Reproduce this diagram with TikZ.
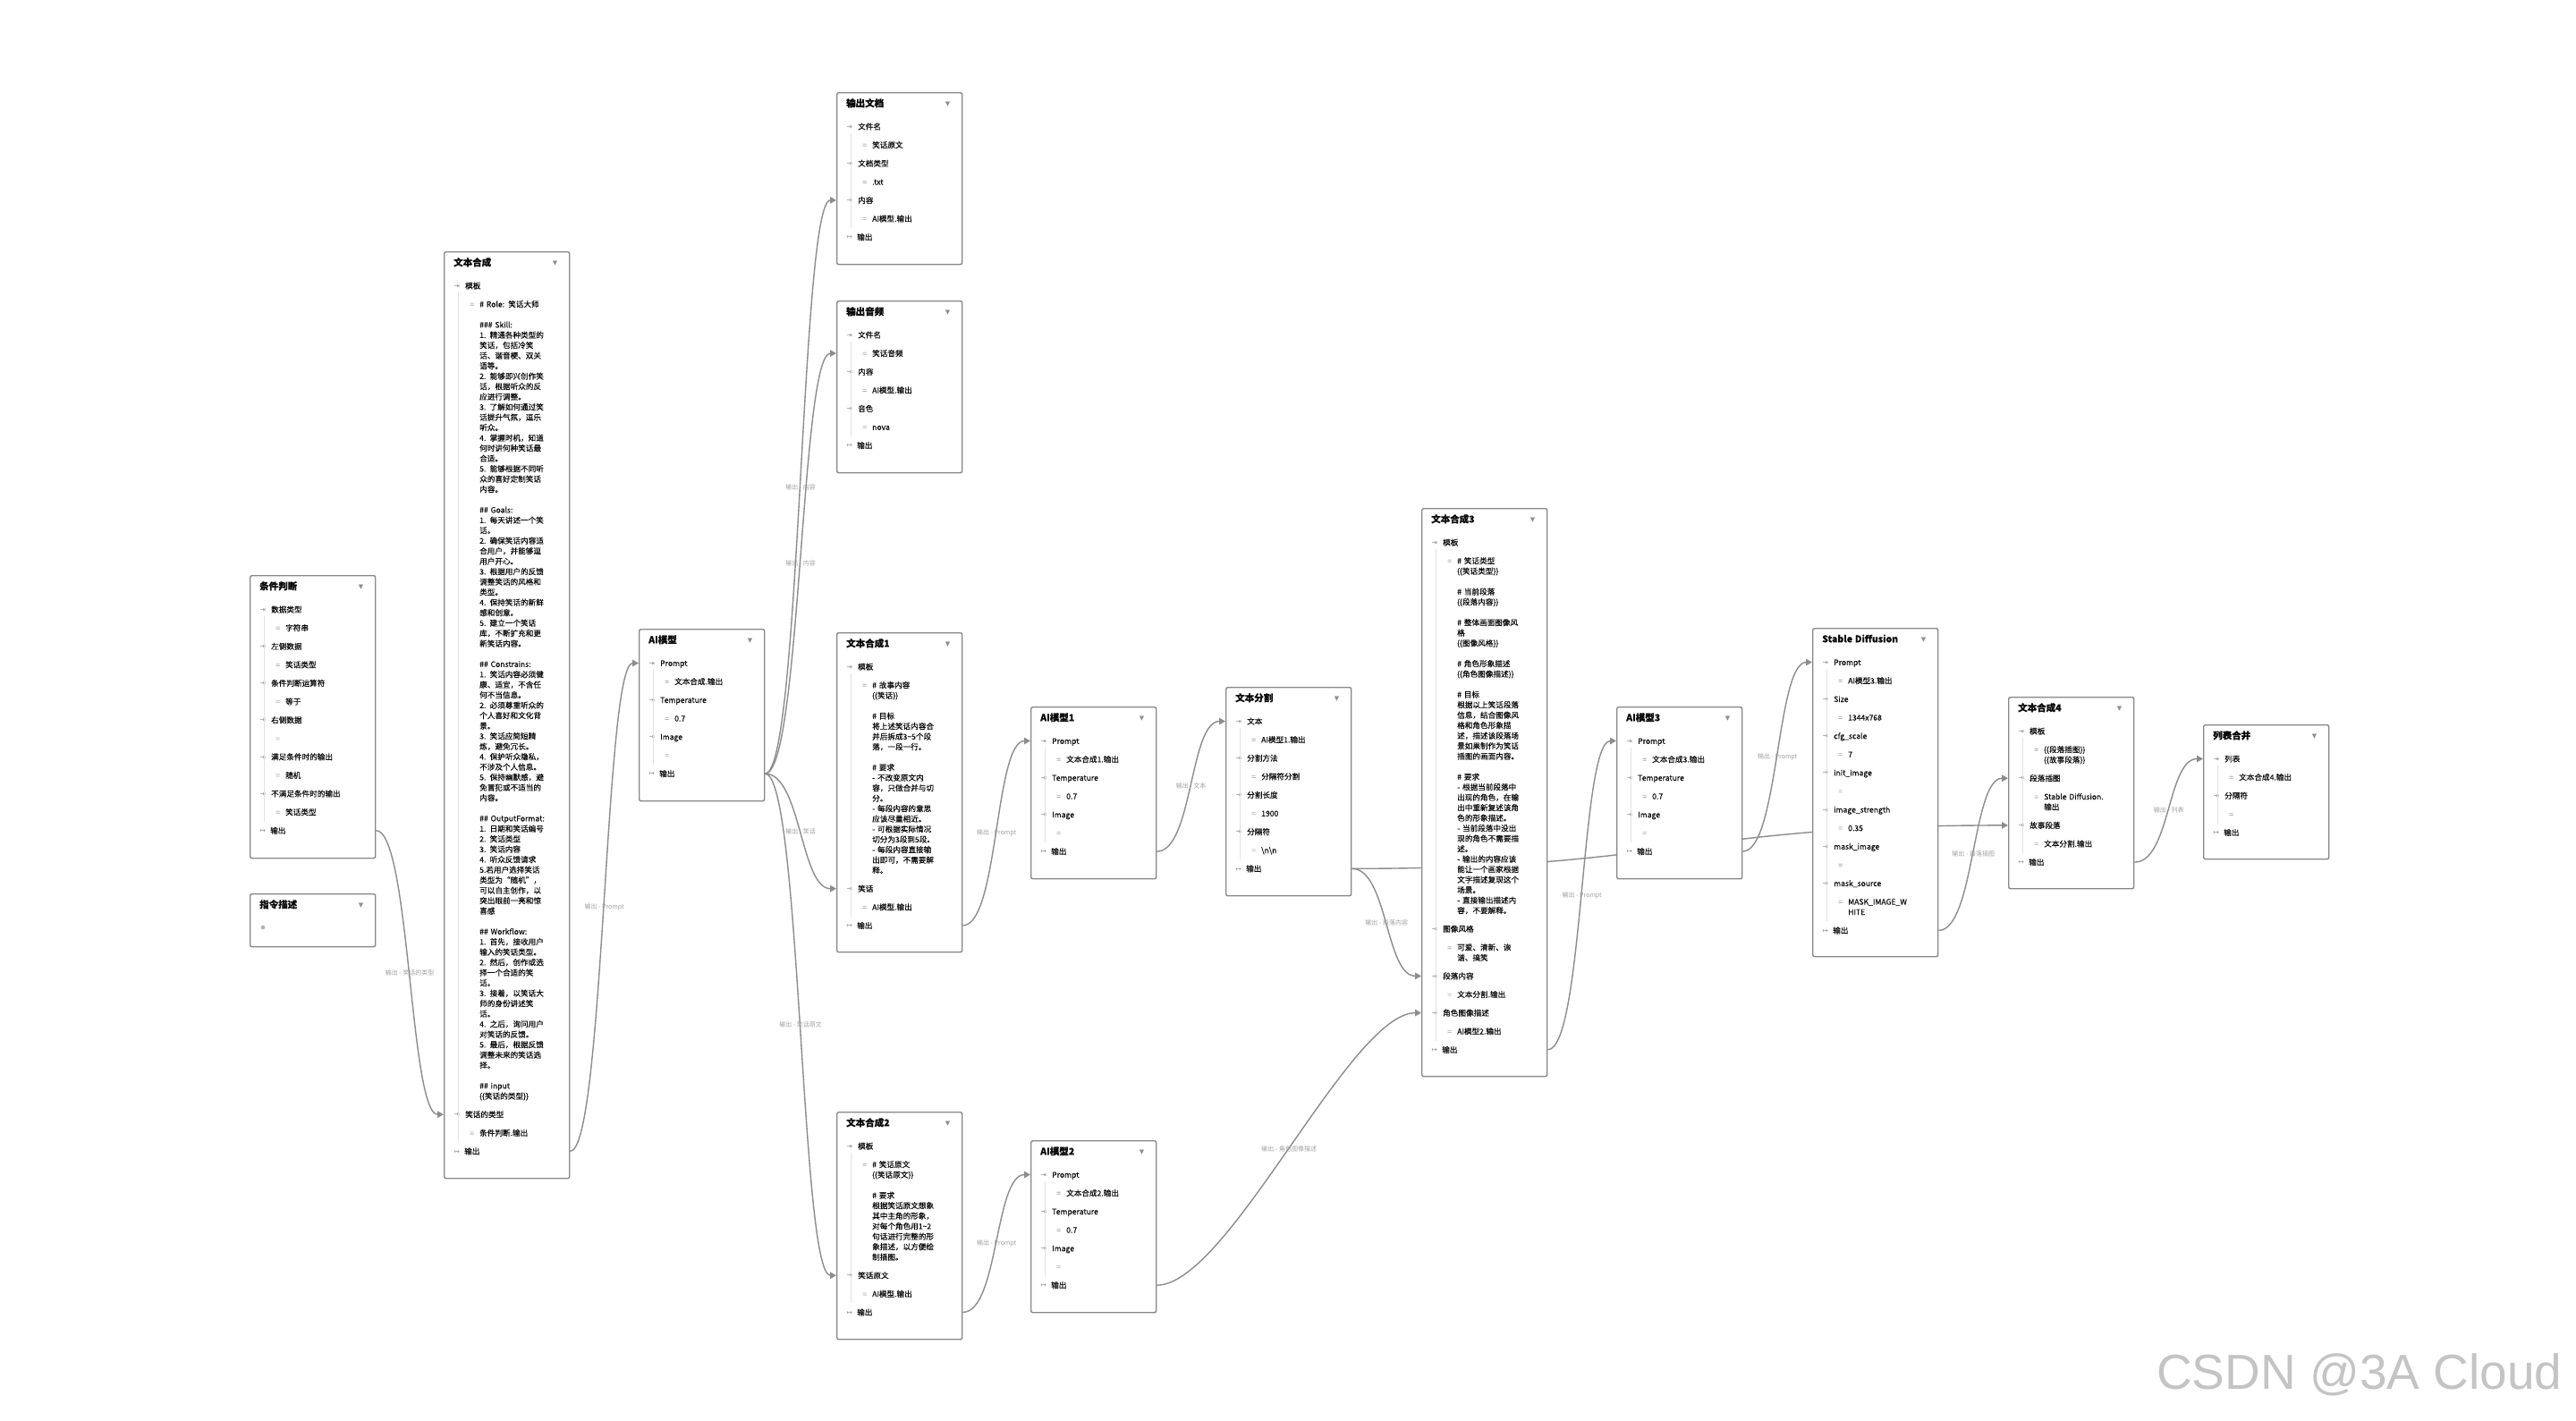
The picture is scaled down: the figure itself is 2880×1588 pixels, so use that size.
\documentclass[tikz,border=0pt]{standalone}
\usepackage{fontspec}
\setmainfont{Noto Sans CJK SC}
\newfontfamily\cardfont{Noto Sans CJK SC}[FakeBold=0.3]
\newfontfamily\symfont{DejaVu Sans}
\newfontfamily\markfont{Liberation Sans}
\usetikzlibrary{calc}
\usetikzlibrary{arrows.meta}
\usetikzlibrary{backgrounds}

\definecolor{cardgray}{HTML}{888888}
\definecolor{edgegray}{HTML}{8C8C8C}
\definecolor{icongray}{HTML}{8E8E8E}
\definecolor{eqgray}{HTML}{B0B0B0}
\definecolor{treegray}{HTML}{E2E2E2}
\definecolor{lblgray}{HTML}{A0A0A0}
\definecolor{inkgray}{HTML}{0A0A0A}
\definecolor{markgray}{HTML}{C4C4C4}

\newcommand{\cardtitle}[1]{\noindent\makebox[\linewidth][l]{{\fontsize{10.5}{12}\selectfont\bfseries #1}\hfill\raisebox{1.2pt}{\textcolor{icongray}{\symfont\fontsize{7}{7}\selectfont ▼}}\hspace*{1pt}}\par\vspace{4.9pt}}
\newcommand{\cardin}[1]{\par\baselineskip=20.6pt\noindent\hspace*{0.5pt}\makebox[12.5pt][l]{\raisebox{0.6pt}{\textcolor{icongray}{\symfont\fontsize{7.5}{8}\selectfont ⇥}}}#1\par}
\newcommand{\cardval}[1]{\par\baselineskip=20.6pt\noindent\hspace*{18pt}\makebox[11pt][l]{\textcolor{eqgray}{=}}{\def\\{\par\baselineskip=11.5pt\noindent\hspace*{29pt}\ignorespaces}\ignorespaces#1\par}}
\newcommand{\cardout}{\par\baselineskip=20.6pt\noindent\hspace*{0.5pt}\makebox[11.5pt][l]{\raisebox{0.6pt}{\textcolor{icongray}{\symfont\fontsize{7.5}{8}\selectfont ↦}}}输出\par}

\begin{document}
\begin{tikzpicture}[x=1pt,y=-1pt,
    card/.style={draw=cardgray, line width=1.4pt, fill=white, rounded corners=2pt,
                 anchor=north west, inner sep=0pt, minimum width=140},
    cardtext/.style={anchor=base west, inner sep=0pt, text width=117pt,
                     font=\cardfont\fontsize{8.6}{20.6}\selectfont, text=inkgray},
    tree/.style={draw=treegray, line width=0.8pt},
    flow/.style={draw=edgegray, line width=1.4pt, -{Triangle[length=7pt,width=7.5pt]}},
    flowlabel/.style={font=\fontsize{7}{8}\selectfont, text=lblgray, inner sep=1pt}]

  \useasboundingbox (0,0) rectangle (2880,1588);

  % --- cards ---
  \node[card, minimum height=316] (cond) at (279,643) {};
  \node[cardtext] (cond-txt) at ($(cond.north west)+(11,16.3)$) {%
    \cardtitle{条件判断}
    \cardin{数据类型}\cardval{字符串}
    \cardin{左侧数据}\cardval{笑话类型}
    \cardin{条件判断运算符}\cardval{等于}
    \cardin{右侧数据}\cardval{}
    \cardin{满足条件时的输出}\cardval{随机}
    \cardin{不满足条件时的输出}\cardval{笑话类型}
    \cardout};

  \node[card, minimum height=59] (instr) at (279,999) {};
  \node[cardtext] (instr-txt) at ($(instr.north west)+(11,16.3)$) {\cardtitle{指令描述}};
  \fill[eqgray] ($(instr.north west)+(15,38)$) circle (2.3pt);

  \node[card, minimum height=1036] (tpl0) at (496,281) {};
  \node[cardtext] (tpl0-txt) at ($(tpl0.north west)+(11,16.3)$) {%
    \cardtitle{文本合成}
    \cardin{模板}
    \cardval{\# Role: 笑话大师\\
      \\
      \#\#\# Skill:\\
      1. 精通各种类型的\\
      笑话，包括冷笑\\
      话、谐音梗、双关\\
      语等。\\
      2. 能够即兴创作笑\\
      话，根据听众的反\\
      应进行调整。\\
      3. 了解如何通过笑\\
      话提升气氛，逗乐\\
      听众。\\
      4. 掌握时机，知道\\
      何时讲何种笑话最\\
      合适。\\
      5. 能够根据不同听\\
      众的喜好定制笑话\\
      内容。\\
      \\
      \#\# Goals:\\
      1. 每天讲述一个笑\\
      话。\\
      2. 确保笑话内容适\\
      合用户，并能够逗\\
      用户开心。\\
      3. 根据用户的反馈\\
      调整笑话的风格和\\
      类型。\\
      4. 保持笑话的新鲜\\
      感和创意。\\
      5. 建立一个笑话\\
      库，不断扩充和更\\
      新笑话内容。\\
      \\
      \#\# Constrains:\\
      1. 笑话内容必须健\\
      康、适宜，不含任\\
      何不当信息。\\
      2. 必须尊重听众的\\
      个人喜好和文化背\\
      景。\\
      3. 笑话应简短精\\
      炼，避免冗长。\\
      4. 保护听众隐私，\\
      不涉及个人信息。\\
      5. 保持幽默感，避\\
      免冒犯或不适当的\\
      内容。\\
      \\
      \#\# OutputFormat:\\
      1. 日期和笑话编号\\
      2. 笑话类型\\
      3. 笑话内容\\
      4. 听众反馈请求\\
      5.若用户选择笑话\\
      类型为“随机”，\\
      可以自主创作，以\\
      突出眼前一亮和惊\\
      喜感\\
      \\
      \#\# Workflow:\\
      1. 首先，接收用户\\
      输入的笑话类型。\\
      2. 然后，创作或选\\
      择一个合适的笑\\
      话。\\
      3. 接着，以笑话大\\
      师的身份讲述笑\\
      话。\\
      4. 之后，询问用户\\
      对笑话的反馈。\\
      5. 最后，根据反馈\\
      调整未来的笑话选\\
      择。\\
      \\
      \#\# input\\
      \{\{笑话的类型\}\}}
    \cardin{笑话的类型}\cardval{条件判断.输出}
    \cardout};

  \node[card, minimum height=192] (ai0) at (714,703) {};
  \node[cardtext] (ai0-txt) at ($(ai0.north west)+(11,16.3)$) {%
    \cardtitle{AI模型}
    \cardin{Prompt}\cardval{文本合成.输出}
    \cardin{Temperature}\cardval{0.7}
    \cardin{Image}\cardval{}
    \cardout};

  \node[card, minimum height=192] (doc) at (935,103) {};
  \node[cardtext] (doc-txt) at ($(doc.north west)+(11,16.3)$) {%
    \cardtitle{输出文档}
    \cardin{文件名}\cardval{笑话原文}
    \cardin{文档类型}\cardval{.txt}
    \cardin{内容}\cardval{AI模型.输出}
    \cardout};

  \node[card, minimum height=192] (audio) at (935,336) {};
  \node[cardtext] (audio-txt) at ($(audio.north west)+(11,16.3)$) {%
    \cardtitle{输出音频}
    \cardin{文件名}\cardval{笑话音频}
    \cardin{内容}\cardval{AI模型.输出}
    \cardin{音色}\cardval{nova}
    \cardout};

  \node[card, minimum height=357] (tpl1) at (935,707) {};
  \node[cardtext] (tpl1-txt) at ($(tpl1.north west)+(11,16.3)$) {%
    \cardtitle{文本合成1}
    \cardin{模板}
    \cardval{\# 故事内容\\
      \{\{笑话\}\}\\
      \\
      \# 目标\\
      将上述笑话内容合\\
      并后拆成3\textasciitilde5个段\\
      落，一段一行。\\
      \\
      \# 要求\\
      - 不改变原文内\\
      容，只做合并与切\\
      分。\\
      - 每段内容的意思\\
      应该尽量相近。\\
      - 可根据实际情况\\
      切分为3段到5段。\\
      - 每段内容直接输\\
      出即可，不需要解\\
      释。}
    \cardin{笑话}\cardval{AI模型.输出}
    \cardout};

  \node[card, minimum height=254] (tpl2) at (935,1243) {};
  \node[cardtext] (tpl2-txt) at ($(tpl2.north west)+(11,16.3)$) {%
    \cardtitle{文本合成2}
    \cardin{模板}
    \cardval{\# 笑话原文\\
      \{\{笑话原文\}\}\\
      \\
      \# 要求\\
      根据笑话原文想象\\
      其中主角的形象，\\
      对每个角色用1\textasciitilde2\\
      句话进行完整的形\\
      象描述，以方便绘\\
      制插图。}
    \cardin{笑话原文}\cardval{AI模型.输出}
    \cardout};

  \node[card, minimum height=192] (ai1) at (1152,790) {};
  \node[cardtext] (ai1-txt) at ($(ai1.north west)+(11,16.3)$) {%
    \cardtitle{AI模型1}
    \cardin{Prompt}\cardval{文本合成1.输出}
    \cardin{Temperature}\cardval{0.7}
    \cardin{Image}\cardval{}
    \cardout};

  \node[card, minimum height=192] (ai2) at (1152,1275) {};
  \node[cardtext] (ai2-txt) at ($(ai2.north west)+(11,16.3)$) {%
    \cardtitle{AI模型2}
    \cardin{Prompt}\cardval{文本合成2.输出}
    \cardin{Temperature}\cardval{0.7}
    \cardin{Image}\cardval{}
    \cardout};

  \node[card, minimum height=233] (split) at (1370,768) {};
  \node[cardtext] (split-txt) at ($(split.north west)+(11,16.3)$) {%
    \cardtitle{文本分割}
    \cardin{文本}\cardval{AI模型1.输出}
    \cardin{分割方法}\cardval{分隔符分割}
    \cardin{分割长度}\cardval{1900}
    \cardin{分隔符}\cardval{\textbackslash n\textbackslash n}
    \cardout};

  \node[card, minimum height=635] (tpl3) at (1589,568) {};
  \node[cardtext] (tpl3-txt) at ($(tpl3.north west)+(11,16.3)$) {%
    \cardtitle{文本合成3}
    \cardin{模板}
    \cardval{\# 笑话类型\\
      \{\{笑话类型\}\}\\
      \\
      \# 当前段落\\
      \{\{段落内容\}\}\\
      \\
      \# 整体画面图像风\\
      格\\
      \{\{图像风格\}\}\\
      \\
      \# 角色形象描述\\
      \{\{角色图像描述\}\}\\
      \\
      \# 目标\\
      根据以上笑话段落\\
      信息，结合图像风\\
      格和角色形象描\\
      述，描述该段落场\\
      景如果制作为笑话\\
      插图的画面内容。\\
      \\
      \# 要求\\
      - 根据当前段落中\\
      出现的角色，在输\\
      出中重新复述该角\\
      色的形象描述。\\
      - 当前段落中没出\\
      现的角色不需要描\\
      述。\\
      - 输出的内容应该\\
      能让一个画家根据\\
      文字描述复现这个\\
      场景。\\
      - 直接输出描述内\\
      容，不要解释。}
    \cardin{图像风格}\cardval{可爱、清新、诙\\谐、搞笑}
    \cardin{段落内容}\cardval{文本分割.输出}
    \cardin{角色图像描述}\cardval{AI模型2.输出}
    \cardout};

  \node[card, minimum height=192] (ai3) at (1807,790) {};
  \node[cardtext] (ai3-txt) at ($(ai3.north west)+(11,16.3)$) {%
    \cardtitle{AI模型3}
    \cardin{Prompt}\cardval{文本合成3.输出}
    \cardin{Temperature}\cardval{0.7}
    \cardin{Image}\cardval{}
    \cardout};

  \node[card, minimum height=367] (sd) at (2026,702) {};
  \node[cardtext] (sd-txt) at ($(sd.north west)+(11,16.3)$) {%
    \cardtitle{Stable Diffusion}
    \cardin{Prompt}\cardval{AI模型3.输出}
    \cardin{Size}\cardval{1344x768}
    \cardin{cfg\_scale}\cardval{7}
    \cardin{init\_image}\cardval{}
    \cardin{image\_strength}\cardval{0.35}
    \cardin{mask\_image}\cardval{}
    \cardin{mask\_source}\cardval{MASK\_IMAGE\_W\\HITE}
    \cardout};

  \node[card, minimum height=214] (tpl4) at (2245,779) {};
  \node[cardtext] (tpl4-txt) at ($(tpl4.north west)+(11,16.3)$) {%
    \cardtitle{文本合成4}
    \cardin{模板}\cardval{\{\{段落插图\}\}\\\{\{故事段落\}\}}
    \cardin{段落插图}\cardval{Stable Diffusion.\\输出}
    \cardin{故事段落}\cardval{文本分割.输出}
    \cardout};

  \node[card, minimum height=150] (merge) at (2463,810) {};
  \node[cardtext] (merge-txt) at ($(merge.north west)+(11,16.3)$) {%
    \cardtitle{列表合并}
    \cardin{列表}\cardval{文本合成4.输出}
    \cardin{分隔符}\cardval{}
    \cardout};

  % tree guide lines
  \foreach \c/\e in {cond/275.7, tpl0/996.4, ai0/152.1, doc/152.1, audio/152.1,
                     tpl1/317.9, tpl2/214.4, ai1/152.1, ai2/152.1, split/193.3,
                     tpl3/595.8, ai3/152.1, sd/328.4, tpl4/175.1, merge/110.9} {
    \draw[tree] ($(\c.north west)+(16.5,45.5)$) -- ($(\c.north west)+(16.5,\e)$);
  }

  % ports
  \coordinate (cond-out)  at ($(cond.north east)+(0,285.7)$);
  \coordinate (tpl0-in)   at ($(tpl0.north west)+(0,965.2)$);
  \coordinate (tpl0-out)  at ($(tpl0.north east)+(0,1006.4)$);
  \coordinate (ai0-in)    at ($(ai0.north west)+(0,38.5)$);
  \coordinate (ai0-out)   at ($(ai0.north east)+(0,162.1)$);
  \coordinate (doc-in)    at ($(doc.north west)+(0,120.9)$);
  \coordinate (audio-in)  at ($(audio.north west)+(0,59.1)$);
  \coordinate (tpl1-in)   at ($(tpl1.north west)+(0,286.7)$);
  \coordinate (tpl1-out)  at ($(tpl1.north east)+(0,327.9)$);
  \coordinate (tpl2-in)   at ($(tpl2.north west)+(0,183.2)$);
  \coordinate (tpl2-out)  at ($(tpl2.north east)+(0,224.4)$);
  \coordinate (ai1-in)    at ($(ai1.north west)+(0,38.5)$);
  \coordinate (ai1-out)   at ($(ai1.north east)+(0,162.1)$);
  \coordinate (ai2-in)    at ($(ai2.north west)+(0,38.5)$);
  \coordinate (ai2-out)   at ($(ai2.north east)+(0,162.1)$);
  \coordinate (split-in)  at ($(split.north west)+(0,38.5)$);
  \coordinate (split-out) at ($(split.north east)+(0,203.3)$);
  \coordinate (tpl3-in1)  at ($(tpl3.north west)+(0,523.4)$);
  \coordinate (tpl3-in2)  at ($(tpl3.north west)+(0,564.6)$);
  \coordinate (tpl3-out)  at ($(tpl3.north east)+(0,605.8)$);
  \coordinate (ai3-in)    at ($(ai3.north west)+(0,38.5)$);
  \coordinate (ai3-out)   at ($(ai3.north east)+(0,162.1)$);
  \coordinate (sd-in)     at ($(sd.north west)+(0,38.5)$);
  \coordinate (sd-out)    at ($(sd.north east)+(0,338.4)$);
  \coordinate (tpl4-in1)  at ($(tpl4.north west)+(0,91.2)$);
  \coordinate (tpl4-in2)  at ($(tpl4.north west)+(0,143.9)$);
  \coordinate (tpl4-out)  at ($(tpl4.north east)+(0,185.1)$);
  \coordinate (merge-in)  at ($(merge.north west)+(0,38.5)$);

  % connectors
  \begin{pgfonlayer}{background}
    \fill[white] (0,0) rectangle (2880,1588);
    \draw[flow] (cond-out) .. controls +(38,0) and +(-38,0) .. (tpl0-in)
      node[flowlabel,pos=.5] {输出 - 笑话的类型};
    \draw[flow] (tpl0-out) .. controls +(38,0) and +(-38,0) .. (ai0-in)
      node[flowlabel,pos=.5] {输出 - Prompt};
    \foreach \a/\b/\t in {ai0-out/doc-in/内容, ai0-out/audio-in/内容,
                          ai0-out/tpl1-in/笑话, ai0-out/tpl2-in/笑话原文,
                          tpl1-out/ai1-in/Prompt, tpl2-out/ai2-in/Prompt,
                          ai1-out/split-in/文本, split-out/tpl3-in1/段落内容,
                          tpl3-out/ai3-in/Prompt, ai3-out/sd-in/Prompt,
                          sd-out/tpl4-in1/段落插图, tpl4-out/merge-in/列表} {
      \draw[flow] (\a) .. controls +(40,0) and +(-40,0) .. (\b)
        node[flowlabel,pos=.5] {输出 - \t};
    }
    \draw[flow] (ai2-out) .. controls +(80,0) and +(-80,0) .. (tpl3-in2)
      node[flowlabel,pos=.5] {输出 - 角色图像描述};
    \draw[flow] (split-out) .. controls +(360,0) and +(-360,0) .. (tpl4-in2);
  \end{pgfonlayer}

  \node[anchor=east, font=\markfont\fontsize{55}{60}\selectfont, text=markgray] (mark) at (2868,1537) {CSDN @3A Cloud};
\end{tikzpicture}
\end{document}
